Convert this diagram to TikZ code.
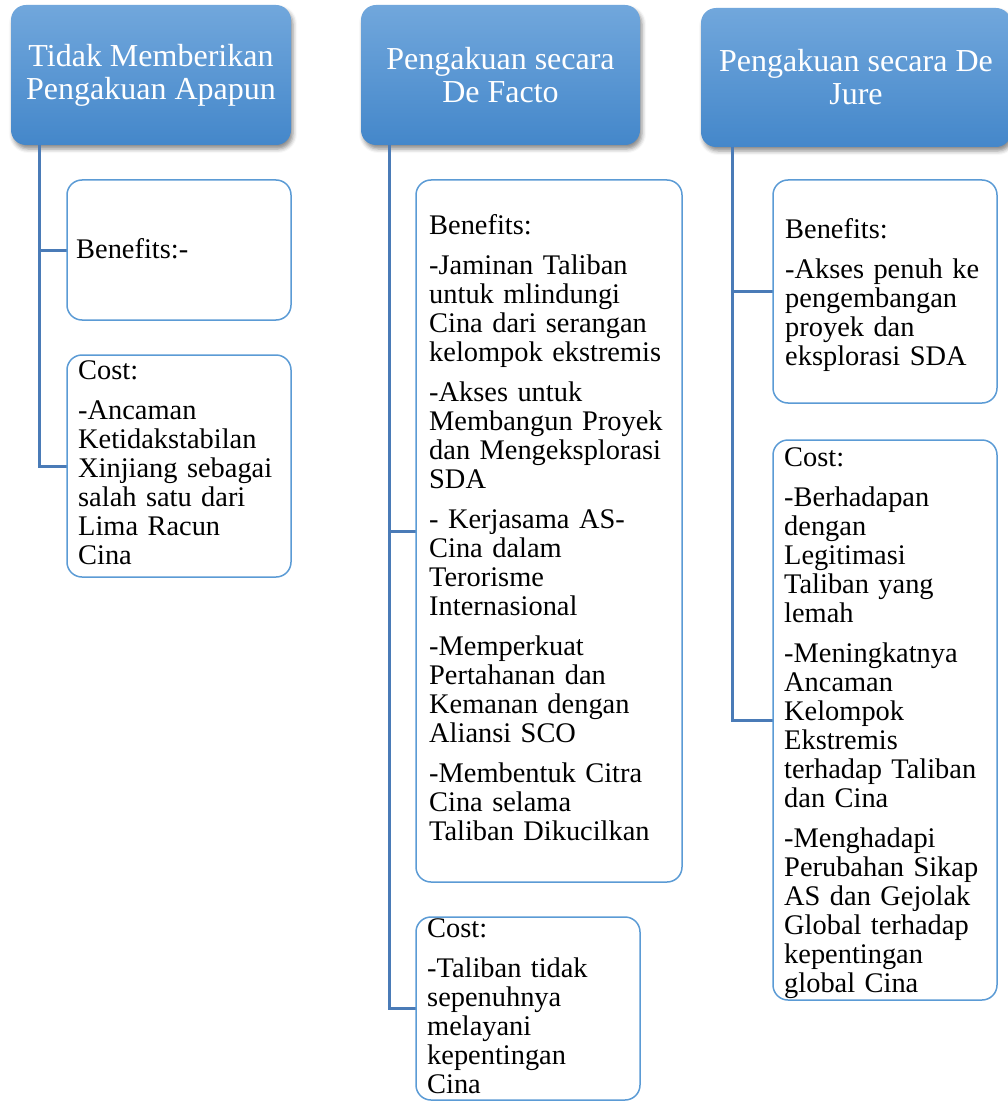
\documentclass[tikz,border=0pt]{standalone}
\usepackage{fontspec}
\setmainfont{Liberation Serif}
\usetikzlibrary{shadows.blur}
\definecolor{hdtop}{HTML}{71A7DC}
\definecolor{hdbot}{HTML}{4487CA}
\definecolor{boxline}{HTML}{5B9BD5}
\definecolor{connline}{HTML}{4A7BB7}
\begin{document}
\begin{tikzpicture}[x=1pt,y=-1pt,
  header/.style={rounded corners=15pt, top color=hdtop, bottom color=hdbot, draw=none,
    text=white, align=center, font=\fontsize{32}{33}\selectfont, inner sep=0pt,
    blur shadow={shadow xshift=2pt, shadow yshift=-4pt, shadow blur radius=4pt, shadow opacity=45}},
  item/.style={draw=boxline, line width=1.5pt, rounded corners=15pt, fill=white, inner sep=0pt},
  itemtext/.style={anchor=base west, inner sep=0pt, text width=300pt, align=left,
    font=\fontsize{28.4}{29}\selectfont, execute at begin node={\setlength{\parskip}{11pt}}},
  conn/.style={draw=connline, line width=3pt, line join=miter}]
\useasboundingbox (0,0) rectangle (1007,1102);

% headers
\node[header, minimum width=280pt, minimum height=140pt] (h1) at (151,75) {Tidak Memberikan\\Pengakuan Apapun};
\node[header, minimum width=279pt, minimum height=140pt] (h2) at (500.5,75) {Pengakuan secara\\De Facto};
\node[header, minimum width=310pt, minimum height=139pt] (h3) at (856,77.5) {Pengakuan secara De\\Jure};

% connector roots
\coordinate (r1) at (39,145);
\coordinate (r2) at (389,145);
\coordinate (r3) at (732,147);

% boxes (positions)
\path (179,250) coordinate (pb1) (179,466) coordinate (pc1)
      (549,531) coordinate (pb2) (528,1008.5) coordinate (pc2)
      (885,291.5) coordinate (pb3) (885,720) coordinate (pc3);

% connectors (drawn under boxes)
\path (pb1) node[minimum width=224pt, minimum height=140pt, inner sep=0pt] (b1) {}
      (pc1) node[minimum width=224pt, minimum height=222pt, inner sep=0pt] (c1) {}
      (pb2) node[minimum width=266pt, minimum height=702pt, inner sep=0pt] (b2) {}
      (pc2) node[minimum width=224pt, minimum height=183pt, inner sep=0pt] (c2) {}
      (pb3) node[minimum width=224pt, minimum height=223pt, inner sep=0pt] (b3) {}
      (pc3) node[minimum width=224pt, minimum height=560pt, inner sep=0pt] (c3) {};

\draw[conn] (r1) |- (c1.west);
\draw[conn] (r1 |- b1.west) -- (b1.west);
\draw[conn] (r2) |- (c2.west);
\draw[conn] (r2 |- b2.west) -- (b2.west);
\draw[conn] (r3) |- (c3.west);
\draw[conn] (r3 |- b3.west) -- (b3.west);

% visible boxes
\node[item, minimum width=224pt, minimum height=140pt] (b1box) at (b1) {};
\node[item, minimum width=224pt, minimum height=222pt] (c1box) at (c1) {};
\node[item, minimum width=266pt, minimum height=702pt] (b2box) at (b2) {};
\node[item, minimum width=224pt, minimum height=183pt] (c2box) at (c2) {};
\node[item, minimum width=224pt, minimum height=223pt] (b3box) at (b3) {};
\node[item, minimum width=224pt, minimum height=560pt] (c3box) at (c3) {};

% texts
\node[itemtext] (b1t) at (76,258) {Benefits:-};
\node[itemtext] (c1t) at (78,379) {Cost:\par -Ancaman\\Ketidakstabilan\\Xinjiang sebagai\\salah satu dari\\Lima Racun\\Cina};
\node[itemtext] (b2t) at (429,234) {Benefits:\par -Jaminan Taliban\\untuk mlindungi\\Cina dari serangan\\kelompok ekstremis\par -Akses untuk\\Membangun Proyek\\dan Mengeksplorasi\\SDA\par - Kerjasama AS-\\Cina dalam\\Terorisme\\Internasional\par -Memperkuat\\Pertahanan dan\\Kemanan dengan\\Aliansi SCO\par -Membentuk Citra\\Cina selama\\Taliban Dikucilkan};
\node[itemtext] (c2t) at (427,937) {Cost:\par -Taliban tidak\\sepenuhnya\\melayani\\kepentingan\\Cina};
\node[itemtext] (b3t) at (785,238) {Benefits:\par -Akses penuh ke\\pengembangan\\proyek dan\\eksplorasi SDA};
\node[itemtext] (c3t) at (784,466) {Cost:\par -Berhadapan\\dengan\\Legitimasi\\Taliban yang\\lemah\par -Meningkatnya\\Ancaman\\Kelompok\\Ekstremis\\terhadap Taliban\\dan Cina\par -Menghadapi\\Perubahan Sikap\\AS dan Gejolak\\Global terhadap\\kepentingan\\global Cina};
\end{tikzpicture}
\end{document}
